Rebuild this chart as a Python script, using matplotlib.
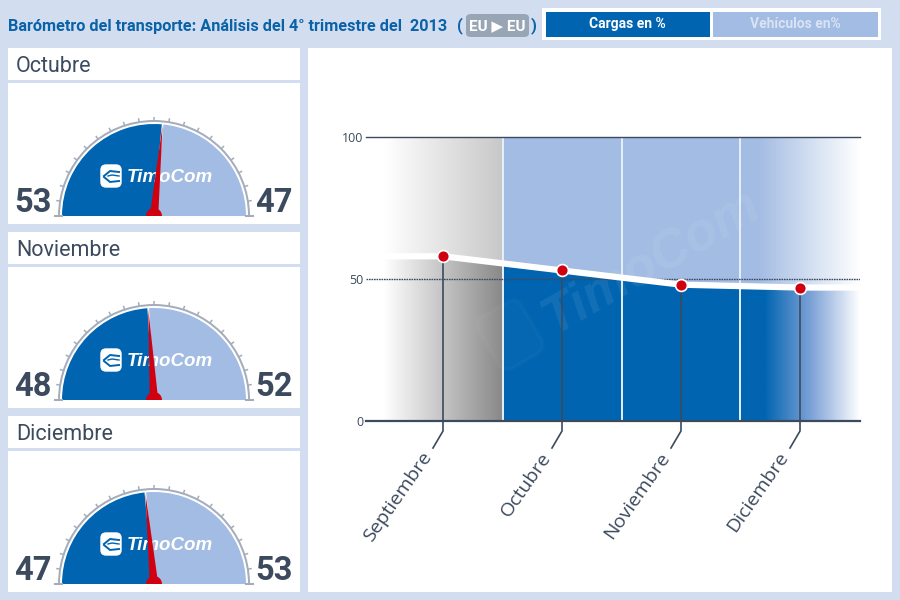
import numpy as np
import matplotlib
matplotlib.use("Agg")
import matplotlib.pyplot as plt
from matplotlib.colors import LinearSegmentedColormap
from matplotlib.patches import FancyBboxPatch, Polygon, Rectangle, Wedge
from matplotlib.transforms import Affine2D

plt.rcParams['font.family'] = ['Roboto', 'DejaVu Sans']

# chart values
months = ['Septiembre', 'Octubre', 'Noviembre', 'Diciembre']
cargas = [58, 53, 48, 47]
y_ticks = [0, 50, 100]

# gauges
gauge_months = ['Octubre', 'Noviembre', 'Diciembre']
gauge_cargas = [53, 48, 47]
gauge_vehiculos = [47, 52, 53]

BG = '#d2ddf0'
BLUE = '#0064b0'
LIGHT = '#a3bce3'
DARK = '#3c4a5e'
RED = '#d00010'
TITLE = '#0a62a8'
SCALE = '#a5adba'
W, H = 900, 600


def px_axes(fig, left, top, width, height):
    # axes placed with pixel positions, y counted from the top like the image
    return fig.add_axes([left / W, 1 - (top + height) / H, width / W, height / H])


def fig_rect(fig, left, top, width, height, color):
    # zorder below the axes, otherwise the box hides them
    fig.add_artist(Rectangle((left / W, 1 - (top + height) / H), width / W, height / H,
                             transform=fig.transFigure, fc=color, ec='none', zorder=-1))


def draw_gauge(fig, top, month, left_val, right_val):
    fig_rect(fig, 8, top, 292, 32, 'white')
    fig.text(16 / W, 1 - (top + 18) / H, month, fontsize=15.5, color=DARK, va='center')
    fig_rect(fig, 8, top + 35, 292, 141, 'white')

    ax = px_axes(fig, 8, top + 35, 292, 141)
    ax.set_xlim(-146, 146)
    ax.set_ylim(-8, 133)
    ax.axis('off')

    # angle in degrees, 180 at the left end, 0 at the right end
    split = 180 - left_val * 1.8
    ax.add_patch(Wedge((0, 0), 92, split, 180, fc=BLUE, ec='none'))
    ax.add_patch(Wedge((0, 0), 92, 0, split, fc=LIGHT, ec='none'))
    a = np.radians(split)
    ax.plot([0, 92 * np.cos(a)], [0, 92 * np.sin(a)], color='white', lw=1.2)

    # outer scale
    ax.add_patch(Wedge((0, 0), 96, 0, 180, width=2, fc=SCALE, ec='none'))
    for t in np.radians(np.arange(0, 181, 9)):
        ax.plot([95 * np.cos(t), 99 * np.cos(t)], [95 * np.sin(t), 99 * np.sin(t)],
                color=SCALE, lw=1.1, solid_capstyle='butt')
    ax.plot([-99, -92], [0, 0], color=SCALE, lw=1.5)
    ax.plot([92, 99], [0, 0], color=SCALE, lw=1.5)

    # logo
    ax.add_patch(FancyBboxPatch((-53, 29), 20, 22, boxstyle='round,pad=0,rounding_size=5',
                                fc='white', ec='white', lw=1, zorder=3))
    ax.plot([-50, -44, -35], [40, 45, 44], color=BLUE, lw=1.4, zorder=4)
    ax.plot([-50, -44, -35], [39, 34, 35], color=BLUE, lw=1.4, zorder=4)
    ax.plot([-46, -42, -35], [40, 41, 40], color=BLUE, lw=1, zorder=4)
    ax.text(-27, 38, 'TimoCom', color='white', fontsize=13.5, fontweight='bold',
            style='italic', va='center', ha='left', zorder=3, family='Liberation Sans')

    # needle
    n = np.array([np.cos(a), np.sin(a)])
    p = np.array([-n[1], n[0]])
    ax.add_patch(Polygon([n * 91, p * 4 + n * 5, -p * 4 + n * 5], fc=RED, ec='none', zorder=5))
    ax.add_patch(Wedge((0, 0), 8, 0, 180, fc=RED, ec='none', zorder=5))

    ax.text(-121, 4, str(left_val), fontsize=23.5, fontweight='bold', color=DARK, ha='center',
            va='baseline')
    ax.text(120, 4, str(right_val), fontsize=23.5, fontweight='bold', color=DARK, ha='center',
            va='baseline')


def gradient(ax, colors, x0, x1, y0, y1, clip=None, stops=None):
    if stops is None:
        cmap = LinearSegmentedColormap.from_list('g', colors)
    else:
        cmap = LinearSegmentedColormap.from_list('g', list(zip(stops, colors)))
    im = ax.imshow(np.linspace(0, 1, 256)[None, :], extent=[x0, x1, y0, y1], cmap=cmap,
                   aspect='auto', interpolation='bilinear', zorder=1)
    if clip is not None:
        im.set_clip_path(clip)
    return im


fig = plt.figure(figsize=(9, 6), dpi=100, facecolor=BG)

# header
fig.text(8 / W, 1 - 27 / H, 'Barómetro del transporte: Análisis del 4° trimestre del  2013',
         fontsize=11.7, fontweight='bold', color=TITLE, va='center')
fig.text(457 / W, 1 - 26 / H, '(', fontsize=12, fontweight='bold', color=TITLE, va='center')
fig.add_artist(FancyBboxPatch((466 / W, 1 - 37 / H), 63 / W, 23 / H,
                              boxstyle='round,pad=0,rounding_size=0.006',
                              transform=fig.transFigure, fc='#98a5b5', ec='none', zorder=-1))
fig.text(497 / W, 1 - 26 / H, 'EU ▶ EU', fontsize=11, fontweight='bold', color='white',
         va='center', ha='center')
fig.text(531 / W, 1 - 26 / H, ')', fontsize=12, fontweight='bold', color=TITLE, va='center')
fig_rect(fig, 542, 8, 339, 32, 'white')
fig_rect(fig, 546, 12, 164, 25, BLUE)
fig_rect(fig, 713, 12, 165, 25, LIGHT)
fig.text(627 / W, 1 - 24 / H, 'Cargas en %', fontsize=10, fontweight='bold', color='white',
         ha='center', va='center')
fig.text(795 / W, 1 - 24 / H, 'Vehículos en%', fontsize=10, fontweight='bold', color='#d9e3f3',
         ha='center', va='center')

# gauges
for top, m, l, r in zip([48, 232, 416], gauge_months, gauge_cargas, gauge_vehiculos):
    draw_gauge(fig, top, m, l, r)

# main panel
fig_rect(fig, 308, 48, 584, 544, 'white')

# x positions: months are 119 px apart, Septiembre sits at 443 px
ax = px_axes(fig, 366, 137, 494, 284)
x_lo, x_hi = (366 - 443) / 119, (860 - 443) / 119
fade_lo = (384 - 443) / 119
ax.patch.set_alpha(0)
for s in ax.spines.values():
    s.set_visible(False)
ax.set_xticks([])
ax.set_yticks(y_ticks)
ax.tick_params(axis='y', length=0, labelsize=9, labelcolor=DARK, pad=2)
for lab in ax.get_yticklabels():
    lab.set_family('Open Sans')

x_vals = np.arange(len(months))
line_x = np.concatenate([[fade_lo], x_vals, [x_hi]])
line_y = np.concatenate([[cargas[0]], cargas, [cargas[-1]]])
under = Polygon(np.column_stack([np.concatenate([line_x, [x_hi, fade_lo]]),
                                 np.concatenate([line_y, [0, 0]])]),
                transform=ax.transData, fc='none', ec='none')
ax.add_patch(under)

# upper backgrounds
gradient(ax, ['#ffffff', '#c8c8c8'], fade_lo, 0.5, 0, 100)
ax.add_patch(Rectangle((0.5, 0), 2, 100, fc=LIGHT, ec='none', zorder=1))
gradient(ax, [LIGHT, LIGHT, '#ffffff'], 2.5, x_hi, 0, 100, stops=[0, 0.15, 1])

# lower backgrounds, clipped under the line
gradient(ax, ['#ffffff', '#888888'], fade_lo, 0.5, 0, 100, clip=under)
r2 = Rectangle((0.5, 0), 2, 100, fc=BLUE, ec='none', zorder=1)
ax.add_patch(r2)
r2.set_clip_path(under)
gradient(ax, [BLUE, BLUE, '#7fa3d8', '#ffffff'], 2.5, x_hi, 0, 100, clip=under,
         stops=[0, 0.2, 0.6, 1])

# imshow resets the limits, so set them afterwards
ax.set_xlim(x_lo, x_hi)
ax.set_ylim(0, 100)

# watermark, icon is placed in display pixels since the axes aspect is not equal
ax.text(1.75, 56, 'TimoCom', fontsize=38, fontweight='bold', style='italic', color='white',
        alpha=0.08, rotation=30, ha='center', va='center', zorder=2, family='Liberation Sans')
mark = FancyBboxPatch((485, 600 - 365), 50, 60, boxstyle='round,pad=0,rounding_size=12',
                      fc='white', ec='white', alpha=0.025, lw=3, zorder=2,
                      transform=Affine2D().rotate_deg_around(510, 265, 30))
mark.set_clip_on(False)
ax.add_artist(mark)

# band separators
for b in [0.5, 1.5, 2.5]:
    ax.plot([b, b], [0, 100], color='#e6f0fb', lw=1.4, zorder=2)

# grid
ax.plot([x_lo, x_hi], [100, 100], color=DARK, lw=1.0, zorder=3, clip_on=False)
ax.plot([x_lo, x_hi], [50, 50], color=DARK, lw=1.0, ls=(0, (1.2, 0.6)), zorder=3)
ax.plot([x_lo, x_hi], [0, 0], color=DARK, lw=1.6, zorder=3, clip_on=False)

ax.plot(line_x, line_y, color='white', lw=4.5, zorder=4, solid_joinstyle='round')

# leaders and labels
trans = ax.get_xaxis_transform()
for i, name in enumerate(months):
    ax.plot([i, i], [0, cargas[i]], color=DARK, lw=1.2, zorder=5)
    ax.plot([i, i, i - 10 / 119], [0, -10 / 284, -27 / 284], transform=trans, color=DARK, lw=1.2,
            clip_on=False, zorder=5)
    ax.text(i - 15 / 119, -33 / 284, name, transform=trans, rotation=55, rotation_mode='anchor',
            ha='right', va='center', fontsize=14, color=DARK, clip_on=False, family='Open Sans')

ax.plot(x_vals, cargas, ls='none', marker='o', ms=8.5, mfc=RED, mec='white', mew=1.2, zorder=6)

fig.savefig('out.png', dpi=100, facecolor=BG)
